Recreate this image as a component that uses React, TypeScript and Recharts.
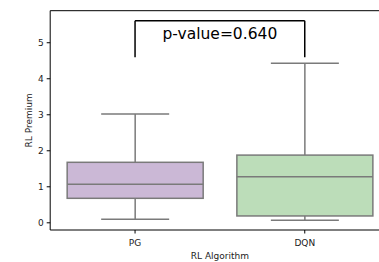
import { ComposedChart, Bar, XAxis, YAxis, ReferenceLine } from "recharts";

const categories = ["PG", "DQN"];
const whiskerLow = [0.1, 0.07];
const q1 = [0.68, 0.19];
const median = [1.07, 1.28];
const q3 = [1.68, 1.88];
const whiskerHigh = [3.02, 4.43];
const boxFills = ["#cbb8d6", "#bcddb9"];
const yTicks = [0, 1, 2, 3, 4, 5];
const yDomain = [-0.2, 5.89];
const bracketLow = 4.6;
const bracketHigh = 5.61;
const pValueLabel = "p-value=0.640";

const FONT = "DejaVu Sans, sans-serif";
const LINE = "#7a7a7a";

const data = categories.map((name, i) => ({
  name,
  range: [whiskerLow[i], whiskerHigh[i]],
  q1: q1[i],
  median: median[i],
  q3: q3[i],
  fill: boxFills[i],
}));

function BoxShape(props: any) {
  const { x, y, width, height, payload } = props;
  const top = Math.min(y, y + height);
  const bottom = Math.max(y, y + height);
  const [lo, hi] = payload.range;
  const ppu = (bottom - top) / (hi - lo);
  const toY = (v: number) => bottom - (v - lo) * ppu;
  const cx = x + width / 2;
  const capHalf = width / 4;
  const yQ1 = toY(payload.q1);
  const yQ3 = toY(payload.q3);
  const yMed = toY(payload.median);
  return (
    <g stroke={LINE} strokeWidth={1.5}>
      <line x1={cx} x2={cx} y1={top} y2={yQ3} />
      <line x1={cx} x2={cx} y1={yQ1} y2={bottom} />
      <line x1={cx - capHalf} x2={cx + capHalf} y1={top} y2={top} />
      <line x1={cx - capHalf} x2={cx + capHalf} y1={bottom} y2={bottom} />
      <rect x={x} y={yQ3} width={width} height={yQ1 - yQ3} fill={payload.fill} />
      <line x1={x} x2={x + width} y1={yMed} y2={yMed} />
    </g>
  );
}

function PLabel(props: any) {
  const vb = props.viewBox || {};
  return (
    <text
      x={vb.x + (vb.width || 0) / 2}
      y={vb.y + 18.5}
      textAnchor="middle"
      fontFamily={FONT}
      fontSize={15.5}
      fill="#000"
    >
      {pValueLabel}
    </text>
  );
}

function YTitle(props: any) {
  const vb = props.viewBox || {};
  const cx = 29;
  const cy = vb.y + vb.height / 2;
  return (
    <text
      x={cx}
      y={cy}
      transform={`rotate(-90, ${cx}, ${cy})`}
      textAnchor="middle"
      dominantBaseline="central"
      fontFamily={FONT}
      fontSize={9}
      fill="#222"
    >
      RL Premium
    </text>
  );
}

export default function App() {
  return (
    <div
      style={{
        position: "absolute",
        left: 0,
        top: 0,
        width: 379,
        height: 262,
        overflow: "hidden",
        background: "#fff",
      }}
    >
      <ComposedChart
        width={400}
        height={262}
        data={data}
        margin={{ top: 10.7, right: 10.4, bottom: 0, left: 0 }}
        barCategoryGap="10%"
      >
        <XAxis
          dataKey="name"
          height={32}
          tickSize={3.5}
          tickMargin={6}
          axisLine={{ stroke: "#000", strokeWidth: 1 }}
          tickLine={{ stroke: "#000" }}
          tick={{ fill: "#222", fontSize: 9, fontFamily: FONT }}
          label={{
            value: "RL Algorithm",
            position: "insideBottom",
            offset: 3,
            fill: "#222",
            fontSize: 9,
            fontFamily: FONT,
          }}
        />
        <YAxis
          type="number"
          domain={yDomain}
          ticks={yTicks}
          allowDataOverflow
          width={50.2}
          tickSize={3.5}
          tickMargin={3}
          axisLine={{ stroke: "#000", strokeWidth: 1 }}
          tickLine={{ stroke: "#000" }}
          tick={{ fill: "#222", fontSize: 9, fontFamily: FONT }}
          label={<YTitle />}
        />
        <ReferenceLine y={yDomain[1]} stroke="#000" strokeWidth={1} />
        <Bar dataKey="range" shape={<BoxShape />} isAnimationActive={false} />
        <ReferenceLine
          segment={[
            { x: categories[0], y: bracketLow },
            { x: categories[0], y: bracketHigh },
          ]}
          stroke="#000"
          strokeWidth={1.5}
        />
        <ReferenceLine
          segment={[
            { x: categories[1], y: bracketLow },
            { x: categories[1], y: bracketHigh },
          ]}
          stroke="#000"
          strokeWidth={1.5}
        />
        <ReferenceLine
          segment={[
            { x: categories[0], y: bracketHigh },
            { x: categories[1], y: bracketHigh },
          ]}
          stroke="#000"
          strokeWidth={1.5}
          label={<PLabel />}
        />
      </ComposedChart>
    </div>
  );
}
